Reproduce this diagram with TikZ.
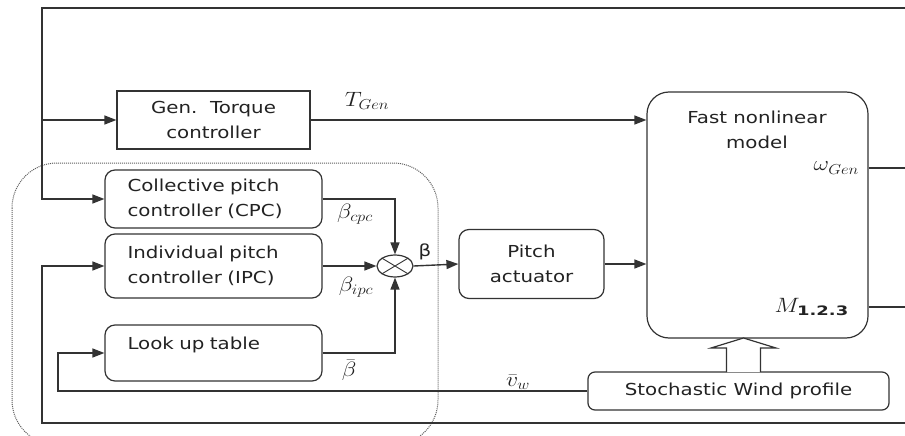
\documentclass[tikz,border=0pt]{standalone}
\usepackage{fontspec}
\usepackage{graphicx}
\setmainfont{DejaVu Sans}[FakeStretch=1.2]
\usetikzlibrary{arrows.meta,shapes.geometric}
\definecolor{ln}{HTML}{333333}
\definecolor{txt}{HTML}{222222}
\definecolor{grp}{HTML}{5E5E5E}
\newcommand{\sigmath}[1]{\scalebox{1.15}[1]{$#1$}}
\tikzset{
  blk/.style={draw=ln, line width=1.2pt, text=txt, font=\fontsize{16.5}{25.5}\selectfont, align=center, inner sep=0pt},
  rblk/.style={blk, rounded corners=10pt},
  ctl/.style={rblk, minimum width=217pt, text width=172pt, align=left},
  sig/.style={draw=ln, line width=1.4pt},
  arr/.style={sig, -{Triangle[length=12pt,width=9pt]}},
  lbl/.style={text=txt, font=\fontsize{20.74}{24}\selectfont, inner sep=1pt},
  hollow/.style={draw=ln, line width=1.2pt, fill=white, line join=miter},
}

\begin{document}
\begin{tikzpicture}[x=1pt, y=-1pt]
  \useasboundingbox (0,0) rectangle (905,436);
  % dotted frame round the pitch controllers
  \draw[grp, line width=1pt, dash pattern=on 1pt off 1pt, rounded corners=45pt] (12,163) rectangle (438,445);

  % blocks
  \node[blk, minimum width=193pt, minimum height=58pt] (gtc) at (213.5,120) {Gen.\ \ Torque\\controller};
  \node[ctl, minimum height=58pt] (cpc) at (213.5,199) {Collective pitch\\controller (CPC)};
  \node[ctl, minimum height=64pt] (ipc) at (213.5,266) {Individual pitch\\controller (IPC)};
  \node[ctl, minimum height=56pt, text depth=20pt] (lut) at (213.5,353) {Look up table};
  \node[draw=ln, line width=1.2pt, ellipse, minimum width=36pt, minimum height=22pt, inner sep=0pt] (sum) at (395,266) {};
  \draw[ln, line width=0.9pt] (sum.31) -- (sum.211) (sum.149) -- (sum.329);
  \node[rblk, minimum width=145pt, minimum height=69pt] (act) at (531.5,264) {Pitch\\actuator};
  \node[draw=ln, line width=1.2pt, rounded corners=22pt, minimum width=221pt, minimum height=246pt] (fnm) at (757.5,215) {};
  \node[blk, draw=none] (fnmtxt) at (757,130) {Fast nonlinear\\model};
  \node[rblk, rounded corners=7pt, minimum width=301pt, minimum height=38pt] (wind) at (738.5,391) {Stochastic Wind profile};

  % signal names
  \node[lbl] (tgen) at (367,101) {\sigmath{T_{Gen}}};
  \node[lbl, anchor=east] (wgen) at (860,168) {\sigmath{\omega_{Gen}}};
  \node[lbl, anchor=east] (mout) at (850,307) {\sigmath{M_{\mbox{\bfseries\fontsize{13}{14}\selectfont 1.2.3}}}};
  \node[lbl] (bcpc) at (355,214) {\sigmath{\beta_{cpc}}};
  \node[lbl] (bipc) at (356,287) {\sigmath{\beta_{ipc}}};
  \node[lbl] (bbar) at (349,370) {\sigmath{\bar{\beta}}};
  \node[lbl, font=\fontsize{16.5}{20}\selectfont] (bout) at (425,252) {β};
  \node[lbl] (vw) at (518,382) {\sigmath{\bar{v}_w}};

  % loose ends at the frame
  \coordinate (tl) at (42,8);
  \coordinate (tr) at (905,8);
  \coordinate (bl) at (42,423);
  \coordinate (br) at (905,423);
  \coordinate (lk) at (58,391);

  % feedback lines
  \draw[arr] (tr) -- (tl) |- (cpc.west);
  \draw[arr] (tl |- gtc.west) -- (gtc.west);
  \draw[arr] (br) -- (bl) |- (ipc.west);
  \draw[arr] (wind.west) -- (lk) |- (lut.west);
  \draw[sig] (wgen -| fnm.east) -- (wgen -| tr);
  \draw[sig] (mout -| fnm.east) -- (mout -| tr);

  % forward path
  \draw[arr] (gtc.east) -- (gtc.east -| fnm.west);
  \draw[arr] (cpc.east) -| (sum.north);
  \draw[arr] (ipc.east) -- (sum.west);
  \draw[arr] (lut.east) -| (sum.south);
  \draw[arr] (sum.east) -- (act.west);
  \draw[arr] (act.east) -- (act.east -| fnm.west);

  % wind input
  \draw[hollow] (726.5,372) -- (726.5,348) -- (711,348) -- (743.5,338) -- (776,348) -- (760.5,348) -- (760.5,372);
\end{tikzpicture}
\end{document}
